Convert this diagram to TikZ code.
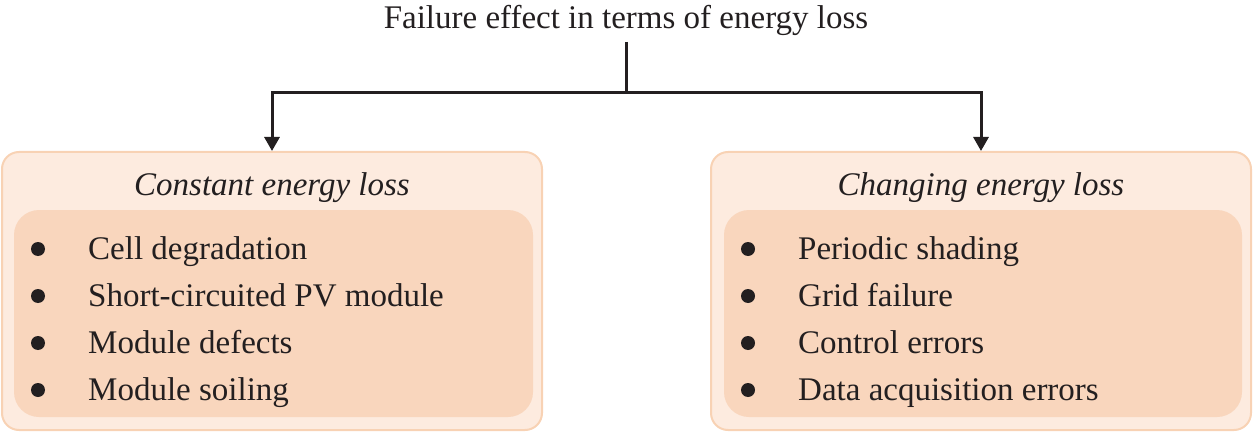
\documentclass[tikz,border=0pt]{standalone}
\usepackage{fontspec}
\setmainfont{Liberation Serif}
\usetikzlibrary{arrows.meta}
\definecolor{outerfill}{HTML}{FDEBDF}
\definecolor{outerdraw}{HTML}{F8D2B4}
\definecolor{innerfill}{HTML}{F9D6BD}
\definecolor{ink}{HTML}{231F20}
\begin{document}
\begin{tikzpicture}[x=1pt,y=-1pt,
  every node/.style={font=\fontsize{33}{40}\selectfont, text=ink},
  outerbox/.style={draw=outerdraw, line width=2pt, fill=outerfill, rounded corners=17pt, minimum width=540pt, minimum height=278pt, inner sep=0pt},
  innerbox/.style={fill=innerfill, rounded corners=25pt, minimum height=207pt, inner sep=0pt},
  itemtext/.style={anchor=base west, inner sep=0pt},
  headtext/.style={anchor=base, inner sep=0pt, font=\fontsize{33}{40}\selectfont\itshape},
  bulletdot/.style={circle, fill=ink, minimum size=14pt, inner sep=0pt},
  conn/.style={draw=ink, line width=3pt, -{Triangle[length=14pt,width=15pt]}}
]
\useasboundingbox (0,0) rectangle (1253,433);
% title
\node[anchor=base, inner sep=0pt] (title) at (626,29) {Failure effect in terms of energy loss};
\coordinate (top) at (626,42);
\coordinate (J) at (626,93);
% boxes
\node[outerbox] (L) at (272,291) {};
\node[innerbox, minimum width=519pt] (Li) at (273.5,313.5) {};
\node[outerbox] (R) at (981,291) {};
\node[innerbox, minimum width=518pt] (Ri) at (983,313.5) {};
% connectors
\draw[draw=ink, line width=3pt] (top) -- (J);
\draw[conn] (J) -| (L.north);
\draw[conn] (J) -| (R.north);
% headings
\node[headtext] (Lh) at (272,195) {Constant energy loss};
\node[headtext] (Rh) at (981,195) {Changing energy loss};
% left items
\node[bulletdot] (lb1) at (38,249) {};
\node[bulletdot] (lb2) at (38,296) {};
\node[bulletdot] (lb3) at (38,343) {};
\node[bulletdot] (lb4) at (38,390) {};
\node[itemtext] (l1) at (88,259) {Cell degradation};
\node[itemtext] (l2) at (88,306) {Short-circuited PV module};
\node[itemtext] (l3) at (88,353) {Module defects};
\node[itemtext] (l4) at (88,400) {Module soiling};
% right items
\node[bulletdot] (rb1) at (748,249) {};
\node[bulletdot] (rb2) at (748,296) {};
\node[bulletdot] (rb3) at (748,343) {};
\node[bulletdot] (rb4) at (748,390) {};
\node[itemtext] (r1) at (798,259) {Periodic shading};
\node[itemtext] (r2) at (798,306) {Grid failure};
\node[itemtext] (r3) at (798,353) {Control errors};
\node[itemtext] (r4) at (798,400) {Data acquisition errors};
\end{tikzpicture}
\end{document}
